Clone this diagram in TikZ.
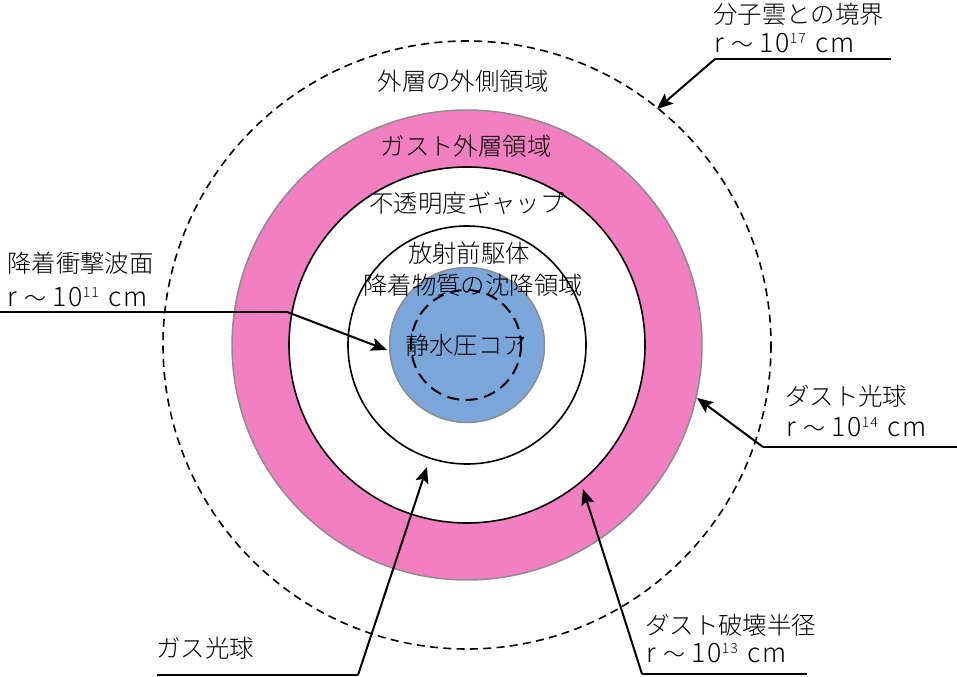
\documentclass[tikz,border=0pt]{standalone}
\usepackage{fontspec}
\setmainfont{Noto Sans CJK JP}[UprightFont=* Light]
\usetikzlibrary{arrows.meta}
\definecolor{ringpink}{HTML}{F37FC3}
\definecolor{coreblue}{HTML}{7BA6DA}
\definecolor{edgegray}{HTML}{8C8C8C}
\newcommand{\rval}[1]{{\fontsize{20pt}{22pt}\selectfont\addfontfeature{LetterSpace=6}r\hspace{5.5pt}{\fontsize{16.5pt}{17pt}\selectfont ～}\hspace{5pt}10\raisebox{6.8pt}{\fontsize{10.5pt}{11pt}\selectfont #1}\hspace{7pt}cm}}
\begin{document}
\begin{tikzpicture}[x=0.75pt,y=-0.75pt,
  lbl/.style={font=\fontsize{18.3pt}{20pt}\selectfont, inner sep=0pt, text height=14pt, text depth=2.2pt, text=black},
  arr/.style={line width=1.5pt, -{Stealth[length=12pt,width=10pt,inset=2.5pt]}},
  lead/.style={line width=1.6pt},
]
\useasboundingbox (0,0) rectangle (957,677);
\coordinate (c) at (467,345);
% circles
\draw[line width=1.2pt, dash pattern=on 6pt off 4pt] (c) circle[radius=304];
\filldraw[fill=ringpink, draw=edgegray, line width=1.1pt] (c) circle[radius=235];
\filldraw[fill=white, draw=black, line width=1.2pt] (c) circle[radius=178];
\draw[line width=1.2pt] (c) circle[radius=119];
\filldraw[fill=coreblue, draw=edgegray, line width=1.1pt] (c) circle[radius=77.5];
\draw[line width=1.5pt, dash pattern=on 9pt off 5pt] (466,345) circle[radius=55];
% region labels
\node[lbl] (outer) at (463,83) {外層の外側領域};
\node[lbl] (gast) at (466,148) {ガスト外層領域};
\node[lbl] (opac) at (467,205) {不透明度ギャップ};
\node[lbl] (prec) at (469,255) {放射前駆体};
\node[lbl] (settle) at (473,287) {降着物質の沈降領域};
\node[lbl] (core) at (466,347) {静水圧コア};
% boundary labels
\node[lbl, anchor=west] (mc1) at (713,16) {分子雲との境界};
\node[lbl, anchor=west] (mc2) at (714,45) {\rval{17}};
\node[lbl, anchor=west] (sh1) at (7,265) {降着衝撃波面};
\node[lbl, anchor=west] (sh2) at (7,299) {\rval{11}};
\node[lbl, anchor=west] (gp1) at (156,650) {ガス光球};
\node[lbl, anchor=west] (dp1) at (785,398) {ダスト光球};
\node[lbl, anchor=west] (dp2) at (786,429) {\rval{14}};
\node[lbl, anchor=west] (dd1) at (645,627) {ダスト破壊半径};
\node[lbl, anchor=west] (dd2) at (646,655) {\rval{13}};
% leader coordinates
\coordinate (mcA) at (891,59);
\coordinate (mcB) at (715,59);
\coordinate (mcT) at (657,109);
\coordinate (shA) at (0,312);
\coordinate (shB) at (287,312);
\coordinate (shT) at (387,350);
\coordinate (gpA) at (157,675);
\coordinate (gpB) at (358,675);
\coordinate (gpT) at (427,467);
\coordinate (dpA) at (957,447);
\coordinate (dpB) at (763,447);
\coordinate (dpT) at (697,398);
\coordinate (ddA) at (807,674);
\coordinate (ddB) at (642,674);
\coordinate (ddT) at (583,489);
% leaders
\draw[lead] (mcA) -- (mcB);
\draw[arr] (mcB) -- (mcT);
\draw[lead] (shA) -- (shB);
\draw[arr] (shB) -- (shT);
\draw[lead] (gpA) -- (gpB);
\draw[arr] (gpB) -- (gpT);
\draw[lead] (dpA) -- (dpB);
\draw[arr] (dpB) -- (dpT);
\draw[lead] (ddA) -- (ddB);
\draw[arr] (ddB) -- (ddT);
\end{tikzpicture}
\end{document}
